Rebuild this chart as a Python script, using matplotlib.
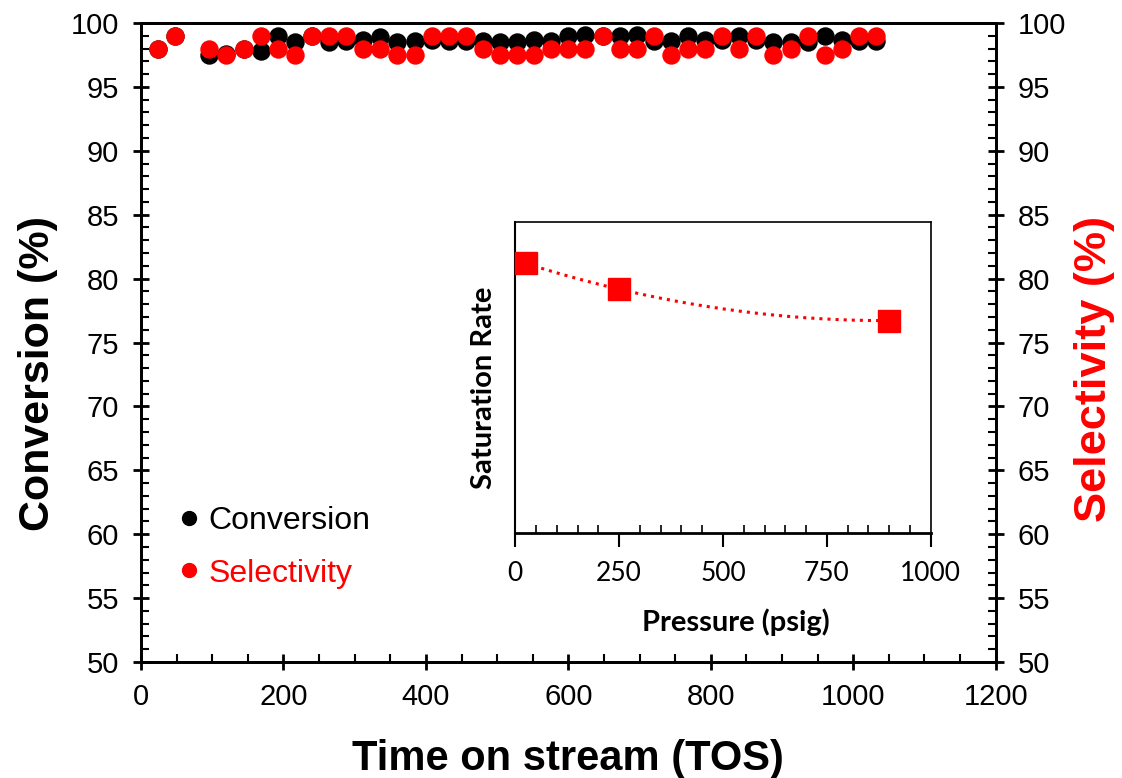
import numpy as np
import matplotlib
matplotlib.use('Agg')
import matplotlib.pyplot as plt
from matplotlib.ticker import MultipleLocator
from matplotlib.lines import Line2D

plt.rcParams['font.family'] = ['Liberation Sans', 'DejaVu Sans']

# Time on stream (h)
tos = [24, 48, 96, 120, 144, 168, 192, 216, 240, 264, 288, 312, 336, 360,
       384, 408, 432, 456, 480, 504, 528, 552, 576, 600, 624, 648, 672, 696,
       720, 744, 768, 792, 816, 840, 864, 888, 912, 936, 960, 984, 1008, 1032]

conversion = [98.0, 99.0, 97.5, 97.6, 98.0, 97.8, 99.0, 98.5, 99.0, 98.5,
              98.6, 98.7, 98.9, 98.5, 98.6, 98.7, 98.6, 98.6, 98.6, 98.5,
              98.5, 98.7, 98.6, 99.0, 99.1, 99.0, 99.0, 99.1, 98.6, 98.6,
              99.0, 98.7, 98.7, 99.0, 98.7, 98.5, 98.5, 98.5, 99.0, 98.7,
              98.6, 98.6]

selectivity = [98.0, 99.0, 98.0, 97.5, 98.0, 99.0, 98.0, 97.5, 99.0, 99.0,
               99.0, 98.0, 98.0, 97.5, 97.5, 99.0, 99.0, 99.0, 98.0, 97.5,
               97.5, 97.5, 98.0, 98.0, 98.0, 99.0, 98.0, 98.0, 99.0, 97.5,
               98.0, 98.0, 99.0, 98.0, 99.0, 97.5, 98.0, 99.0, 97.5, 98.0,
               99.0, 99.0]

# Inset: saturation rate vs pressure (arbitrary units)
pressure = [25, 250, 900]
saturation = [86.8, 78.5, 68.4]

fig = plt.figure(figsize=(11.22, 7.78), dpi=100)
ax = fig.add_axes([0.1257, 0.1491, 0.7617, 0.8213])
ax2 = ax.twinx()

ax.scatter(tos, conversion, s=150, color='black', zorder=3, clip_on=False)
ax2.scatter(tos, selectivity, s=150, color='#ff0000', zorder=3, clip_on=False)

for a in (ax, ax2):
    a.set_ylim(50, 100)
    a.set_xlim(0, 1200)
    a.yaxis.set_major_locator(MultipleLocator(5))
    a.yaxis.set_minor_locator(MultipleLocator(1))
    for s in a.spines.values():
        s.set_linewidth(2)
    a.tick_params(axis='both', which='major', direction='inout', length=12,
                  width=2, labelsize=21)
    a.tick_params(axis='both', which='minor', direction='in', length=6,
                  width=1.5)
    a.tick_params(axis='y', which='major', pad=10)
ax.xaxis.set_major_locator(MultipleLocator(200))
ax.xaxis.set_minor_locator(MultipleLocator(50))
ax.tick_params(axis='x', which='major', pad=9)

ax.set_xlabel('Time on stream (TOS)', fontsize=30, fontweight='bold', labelpad=20)
ax.set_ylabel('Conversion (%)', fontsize=31, fontweight='bold')
ax.yaxis.set_label_coords(-0.097, 0.451)
ax2.set_ylabel('Selectivity (%)', fontsize=32.5, fontweight='bold', color='#ff0000')
ax2.yaxis.set_label_coords(1.092, 0.458)

handles = [Line2D([], [], marker='o', ls='', color='black', markersize=10),
           Line2D([], [], marker='o', ls='', color='#ff0000', markersize=10)]
leg = ax2.legend(handles, ['Conversion', 'Selectivity'], loc='lower left',
                 bbox_to_anchor=(0.004, 0.07), frameon=False, fontsize=23,
                 handletextpad=0.1, labelspacing=0.7, handlelength=1.0)
for txt, c in zip(leg.get_texts(), ['black', '#ff0000']):
    txt.set_color(c)

# inset
ins = fig.add_axes([0.4593, 0.3145, 0.3702, 0.3997])
coef = np.polyfit(pressure, saturation, 2)
xs = np.linspace(pressure[0], pressure[-1], 200)
ins.plot(xs, np.polyval(coef, xs), ls=':', color='#ff0000', lw=2.2, zorder=2)
ins.plot(pressure, saturation, 's', color='#ff0000', markersize=16, zorder=3,
         clip_on=False)
ins.set_xlim(0, 1000)
ins.set_ylim(0, 100)
ins.set_yticks([])
ins.xaxis.set_major_locator(MultipleLocator(250))
ins.xaxis.set_minor_locator(MultipleLocator(50))
ins.tick_params(axis='x', which='major', direction='out', length=10, width=1.5,
                labelsize=19, pad=10)
ins.tick_params(axis='x', which='minor', direction='in', length=6, width=1.2)
for lab in ins.get_xticklabels():
    lab.set_family(['Lato', 'DejaVu Sans'])
ins.spines['left'].set_linewidth(1.5)
ins.spines['bottom'].set_linewidth(2)
ins.spines['top'].set_linewidth(1.2)
ins.spines['right'].set_linewidth(1.2)
ins.set_xlabel('Pressure (psig)', fontsize=21, fontweight='bold',
               family=['Lato', 'DejaVu Sans'], labelpad=16)
ins.xaxis.label.set_x(0.53)
ins.set_ylabel('Saturation Rate', fontsize=21, fontweight='bold',
               family=['Lato', 'DejaVu Sans'], labelpad=13)
ins.yaxis.label.set_y(0.468)

fig.savefig('out.png', dpi=100)
